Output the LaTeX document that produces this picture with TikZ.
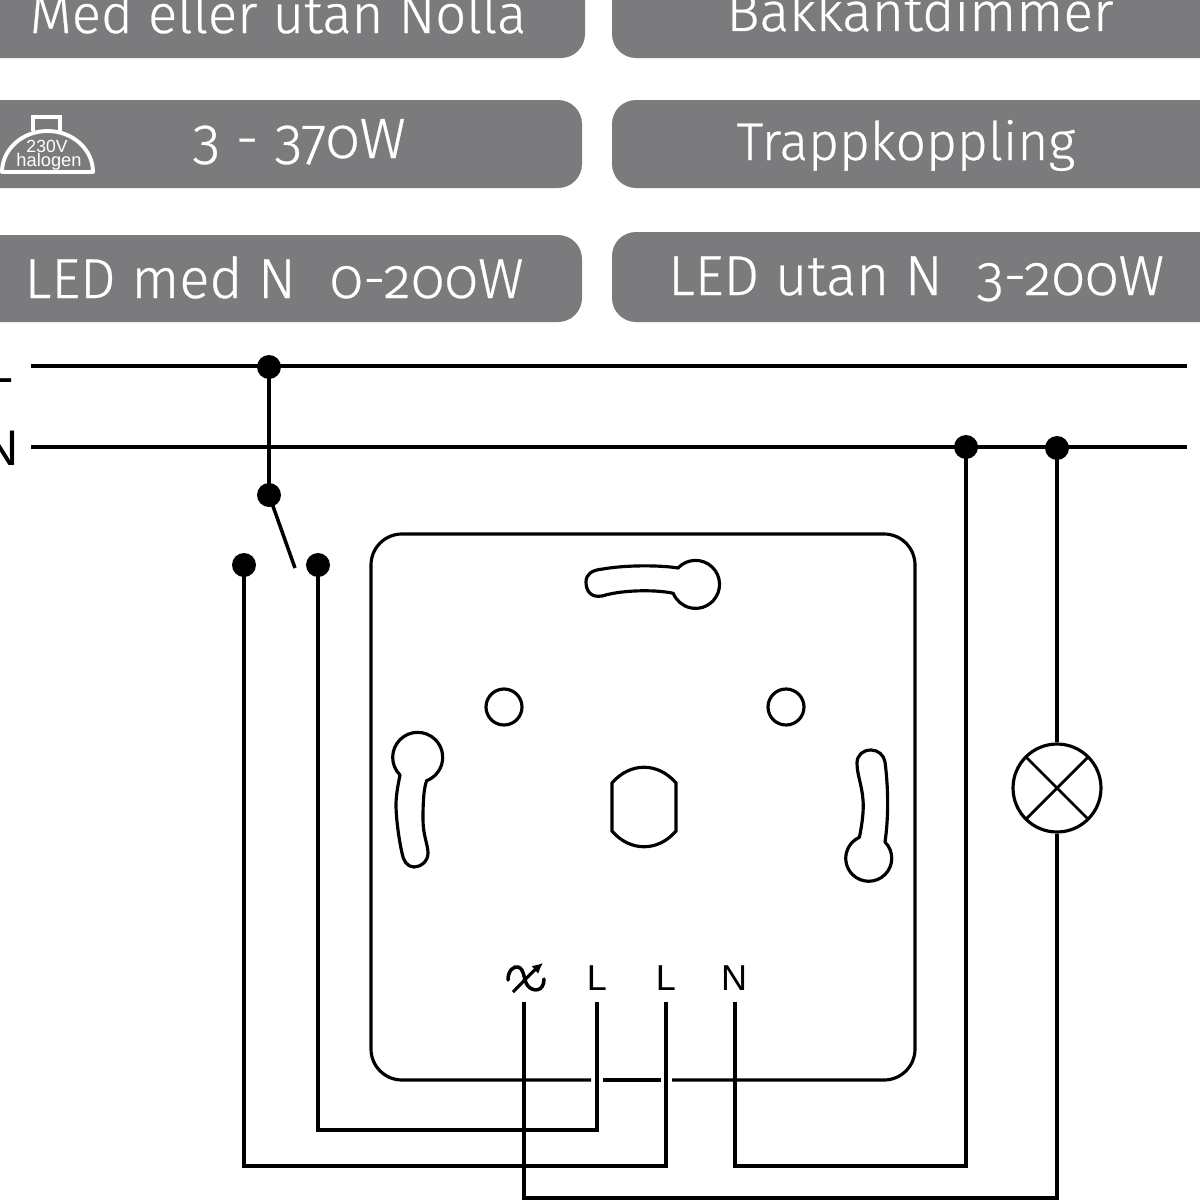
\documentclass[tikz,border=0pt]{standalone}
\usepackage{fontspec}
\usetikzlibrary{arrows.meta}
\setmainfont{Fira Sans Light}[Numbers=OldStyle,BoldFont={Fira Sans Light},BoldFeatures={FakeBold=0.5}]
\newfontfamily\arialfont{Liberation Sans}
\definecolor{bar}{HTML}{7B7B7E}
\newcommand{\barsize}[1]{\fontsize{#1}{#1}\bfseries\selectfont}
\tikzset{
  barbox/.style={fill=bar,draw=none,rounded corners=0.48cm},
  bartext/.style={anchor=base,text=white,inner sep=0pt},
  wire/.style={line width=2pt,black},
  outline/.style={line width=1.8pt,black},
  dot/.style={circle,fill=black,draw=none,inner sep=0pt,minimum size=0.48cm},
  term/.style={anchor=base,font=\arialfont\fontsize{20.5}{20.5}\selectfont,inner sep=0pt},
  edge/.style={anchor=base east,font=\arialfont\fontsize{28.5}{28.5}\selectfont,inner sep=0pt},
  icontext/.style={anchor=base,text=white,inner sep=0pt},
  iconline/.style={line width=2.2pt,white}
}
\begin{document}
\begin{tikzpicture}[x=0.02cm,y=0.02cm,yscale=-1]
\useasboundingbox (0,0) rectangle (1200,1200);
\clip (0,0) rectangle (1200,1200);
\fill[white] (0,0) rectangle (1200,1200);
% bars
\fill[barbox] (-60,-60) rectangle (585,58);
\fill[barbox] (612,-60) rectangle (1260,58);
\fill[barbox] (-60,100) rectangle (582,188);
\fill[barbox] (612,100) rectangle (1260,188);
\fill[barbox] (-60,235) rectangle (582,322);
\fill[barbox] (612,232) rectangle (1260,322);
\node[bartext,font=\barsize{31}] (t1) at (278,33) {Med eller utan Nolla};
\node[bartext,font=\barsize{31.4}] (t2) at (920,31) {Bakkantdimmer};
\node[bartext,font=\barsize{32.4}] (t3) at (299,158) {3 - 370W};
\node[bartext,font=\barsize{30.3}] (t4) at (906,160) {Trappkoppling};
\node[bartext,font=\barsize{32}] (t5) at (274,298) {LED med N\hspace{0.6em}0-200W};
\node[bartext,font=\barsize{32}] (t6) at (916,295) {LED utan N\hspace{0.6em}3-200W};
% halogen icon
\draw[iconline] (33,131) -- (33,117) -- (60,117) -- (60,131);
\draw[iconline,line join=round] (2,172) arc[start angle=180,end angle=360,x radius=0.91cm,y radius=0.82cm] -- cycle;
\node[icontext,font=\arialfont\fontsize{10}{10}\selectfont] (i1) at (47,152) {230V};
\node[icontext,font=\arialfont\fontsize{10.4}{10.4}\selectfont] (i2) at (49,166) {halogen};
% edge labels
\node[edge] (lL) at (14,382) {L};
\node[edge] (lN) at (19,465) {N};
% board
\draw[outline,rounded corners=0.62cm] (591,1080) -| (371,534) -| (915,1080) -- (672,1080);
\draw[outline] (603,1080) -- (661,1080);
% keyholes
\draw[outline,line join=round] (678,568) arc[start angle=223,end angle=518,radius=0.48cm]
  .. controls (660,590) and (625,589) .. (602,596)
  .. controls (590,598) and (586,590) .. (586,582)
  .. controls (586,574) and (592,570) .. (603,569)
  .. controls (625,565) and (660,565) .. cycle;
\draw[outline,line join=round] (400,775) arc[start angle=135,end angle=429,radius=0.5cm]
  .. controls (423,790) and (423,810) .. (423,820)
  .. controls (423,835) and (428,845) .. (428,853)
  .. controls (428,862) and (420,867) .. (414,867)
  .. controls (407,867) and (403,860) .. (402,853)
  .. controls (398,835) and (396,815) .. (396,805)
  .. controls (396,795) and (398,785) .. cycle;
\draw[outline,line join=round] (885,842) arc[start angle=315,end angle=606,radius=0.46cm]
  .. controls (862,825) and (864,810) .. (863,800)
  .. controls (862,785) and (857,775) .. (857,763)
  .. controls (857,755) and (863,750) .. (871,750)
  .. controls (878,750) and (884,755) .. (885,762)
  .. controls (888,785) and (889,815) .. cycle;
% round holes
\node[circle,draw=black,line width=1.8pt,inner sep=0pt,minimum size=0.72cm] (h1) at (504,707) {};
\node[circle,draw=black,line width=1.8pt,inner sep=0pt,minimum size=0.72cm] (h2) at (786,707) {};
\draw[outline,line join=miter] (612,783) .. controls (630,762) and (658,762) .. (676,783)
  -- (676,831) .. controls (658,852) and (630,852) .. (612,831) -- cycle;
% terminal labels
\coordinate (tS) at (524,1002);
\coordinate (tL1) at (597,1002);
\coordinate (tL2) at (666,1002);
\coordinate (tN) at (735,1002);
\node[term] (lL1) at (597,990) {L};
\node[term] (lL2) at (666,990) {L};
\node[term] (lN2) at (734,990) {N};
% shuffle symbol
\draw[line width=2pt,line cap=round] (508,980) .. controls (508,970) and (514,966) .. (518,967)
  .. controls (525,969) and (523,980) .. (528,986)
  .. controls (533,992) and (544,992) .. (544,979);
\draw[line width=1.8pt,-{Latex[length=6pt,width=6pt]}] (513,992) .. controls (522,983) and (530,974) .. (543,963);
% dots
\coordinate (busLa) at (31,366);
\coordinate (busLb) at (1187,366);
\coordinate (busNa) at (31,447);
\coordinate (busNb) at (1187,447);
\node[dot] (dL) at (269,367) {};
\node[dot] (dN1) at (966,447) {};
\node[dot] (dN2) at (1057,448) {};
\node[dot] (dP) at (269,495) {};
\node[dot] (dA) at (244,565) {};
\node[dot] (dB) at (318,565) {};
\coordinate (arm) at (295,568);
% lamp
\node[circle,draw=black,line width=1.8pt,inner sep=0pt,minimum size=1.76cm,
  path picture={\draw[line width=1.6pt] (path picture bounding box.south west)--(path picture bounding box.north east)
  (path picture bounding box.north west)--(path picture bounding box.south east);}] (lamp) at (1057,788) {};
% wire corners
\coordinate (cB) at (318,1130);
\coordinate (cL1) at (597,1130);
\coordinate (cA) at (244,1166);
\coordinate (cL2) at (666,1166);
\coordinate (cN) at (735,1166);
\coordinate (cN1) at (966,1166);
\coordinate (cS) at (524,1198);
\coordinate (cLamp) at (1057,1198);
% wires
\draw[wire] (busLa) -- (busLb);
\draw[wire] (busNa) -- (busNb);
\draw[wire] (dL.center) -- (dP.center);
\draw[wire] (dP.center) -- (arm);
\draw[wire] (dB.center) -- (cB) -- (cL1) -- (tL1);
\draw[wire] (dA.center) -- (cA) -- (cL2) -- (tL2);
\draw[wire] (tN) -- (cN) -- (cN1) -- (dN1.center);
\draw[wire] (tS) -- (cS) -- (cLamp) -- (lamp.south);
\draw[wire] (lamp.north) -- (dN2.center);
\end{tikzpicture}
\end{document}
